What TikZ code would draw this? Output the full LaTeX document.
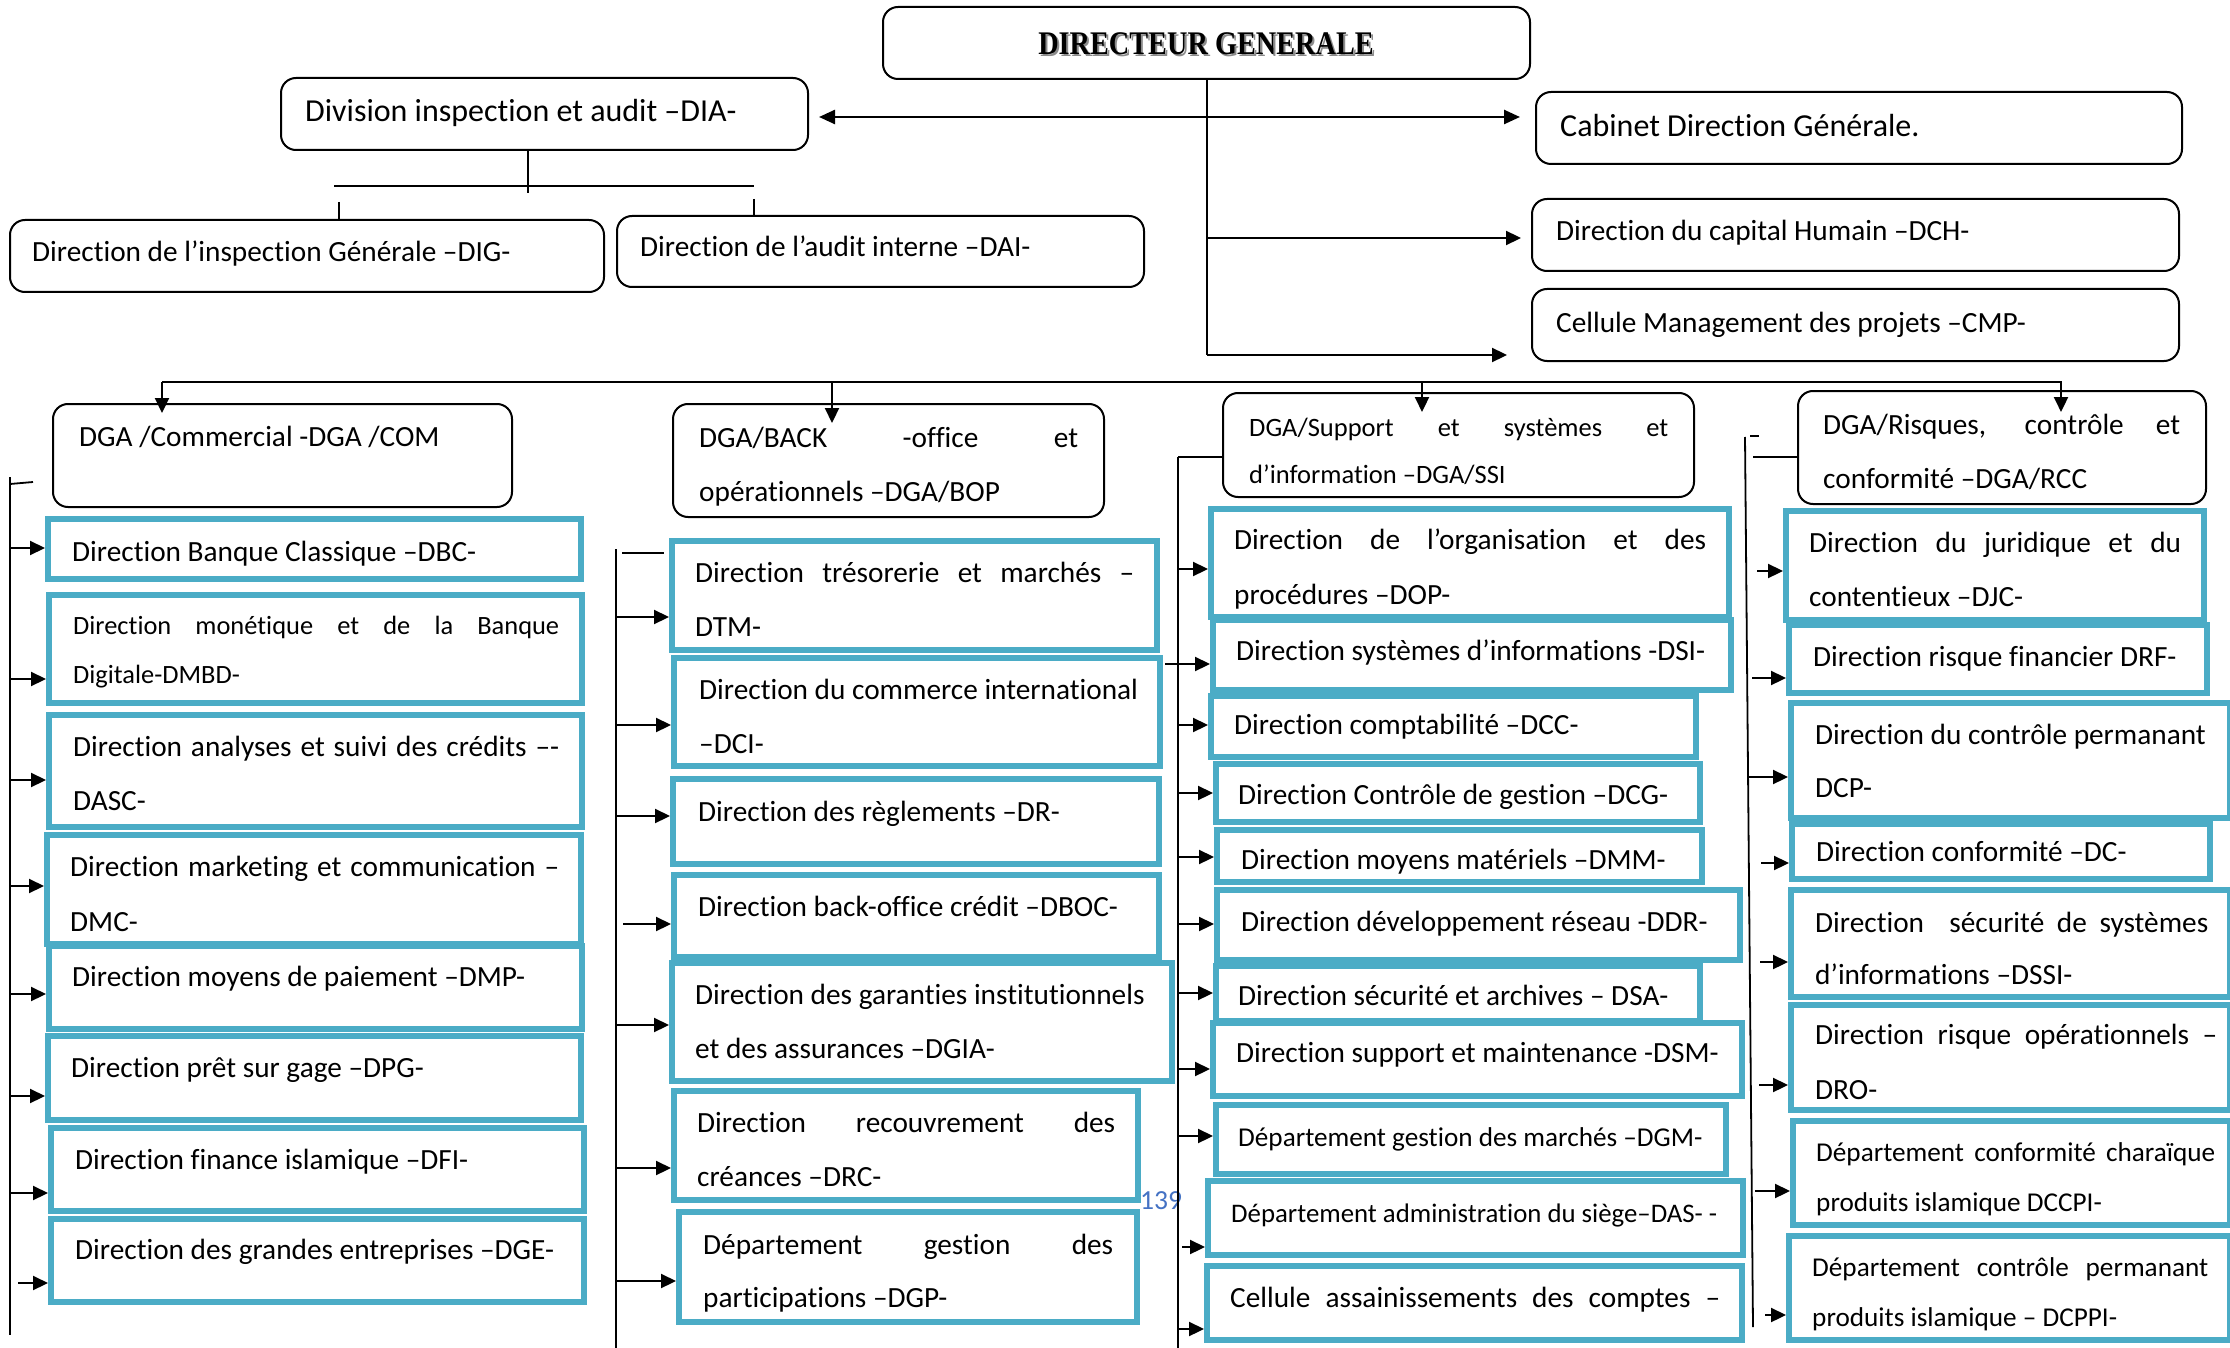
\documentclass[tikz,border=0pt]{standalone}
\usepackage{fontspec}
\setmainfont{Carlito}[Ligatures=CommonOff]
\newfontfamily\titlefont{Liberation Serif}
\usetikzlibrary{arrows.meta}
\definecolor{boxblue}{RGB}{75,172,198}
\definecolor{pnblue}{RGB}{68,114,196}
\newcommand\fsz[1]{\fontsize{#1}{#1}\selectfont}
\tikzset{
 rbox/.style={draw=black, line width=2pt, rounded corners=15pt, inner sep=0pt},
 bbox/.style={draw=boxblue, line width=6pt, inner sep=0pt},
 txt/.style={anchor=base west, inner sep=0pt, font=\fsz{29.3}},
 ln/.style={line width=1.8pt},
 arr/.style={line width=2.2pt, -{Triangle[length=15pt,width=14pt]}},
 arr2/.style={line width=2.5pt, {Triangle[length=16pt,width=14pt]}-{Triangle[length=16pt,width=14pt]}},
 titl/.style={font=\titlefont\bfseries\fsz{33}, inner sep=0pt},
}
\newcommand\RB[5]{\node[rbox, minimum width={#4-#2-2}, minimum height={#5-#3-2}] (#1) at ({(#2+#4)/2},{(#3+#5)/2}) {};}
\newcommand\BB[5]{\node[bbox, minimum width={#4-#2-6}, minimum height={#5-#3-6}] (#1) at ({(#2+#4)/2},{(#3+#5)/2}) {};}
\newcommand\TX[5][]{\node[txt,#1] (#2) at (#3,{#4+9}) {#5};}
\newcommand\TJ[6][]{\node[txt,#1] (#2) at (#3,{#4+9}) {\makebox[#5pt][s]{#6}};}
\begin{document}
\begin{tikzpicture}[x=1pt,y=-1pt]
\fill[white] (0,0) rectangle (2230,1348);
\useasboundingbox (0,0) rectangle (2230,1348);
% ---------- rounded black boxes
\RB{dg}{882}{6}{1531}{80}
\RB{dia}{280}{77}{809}{151}
\RB{cab}{1535}{91}{2183}{165}
\RB{dch}{1531}{198}{2180}{272}
\RB{cmp}{1531}{288}{2180}{362}
\RB{dig}{9}{219}{605}{293}
\RB{dai}{616}{215}{1145}{288}
\RB{com}{52}{403}{513}{508}
\RB{bop}{672}{403}{1105}{518}
\RB{ssi}{1222}{392}{1695}{498}
\RB{rcc}{1797}{390}{2207}{505}
% ---------- blue boxes column 1
\BB{dbc}{45}{516}{584}{582}
\BB{dmbd}{46}{592}{585}{706}
\BB{dasc}{46}{712}{585}{830}
\BB{dmc}{44}{832}{584}{947}
\BB{dmp}{46}{943}{585}{1032}
\BB{dpg}{45}{1033}{584}{1123}
\BB{dfi}{48}{1125}{587}{1214}
\BB{dge}{48}{1216}{587}{1305}
% column 2
\BB{dtm}{669}{538}{1160}{653}
\BB{dci}{671}{655}{1163}{769}
\BB{dr}{670}{776}{1162}{867}
\BB{dboc}{671}{872}{1162}{960}
\BB{dgia}{669}{960}{1175}{1084}
\BB{drc}{671}{1088}{1141}{1203}
\BB{dgp}{676}{1209}{1140}{1325}
% column 3
\BB{dop}{1208}{506}{1732}{620}
\BB{dsi}{1210}{617}{1734}{693}
\BB{dcc}{1208}{693}{1699}{760}
\BB{dcg}{1213}{761}{1703}{825}
\BB{dmm}{1214}{827}{1705}{885}
\BB{ddr}{1214}{887}{1743}{963}
\BB{dsa}{1213}{963}{1703}{1024}
\BB{dsm}{1210}{1020}{1745}{1099}
\BB{dgm}{1213}{1102}{1729}{1177}
\BB{das}{1205}{1178}{1746}{1258}
\BB{cac}{1204}{1263}{1745}{1343}
% column 4
\BB{djc}{1783}{508}{2207}{623}
\BB{drf}{1786}{622}{2210}{696}
\BB{dcp}{1788}{700}{2233}{821}
\BB{dc}{1789}{821}{2213}{882}
\BB{dssi}{1788}{887}{2233}{1000}
\BB{dro}{1788}{1002}{2233}{1113}
\BB{dccpi}{1790}{1118}{2233}{1228}
\BB{dcppi}{1786}{1233}{2233}{1343}
% ---------- texts
\node[titl, text=black!45] (dg-sh) at (1208,46) {\scalebox{0.857}[1]{DIRECTEUR GENERALE}};
\node[titl] (dg-t) at (1206,44) {\scalebox{0.857}[1]{DIRECTEUR GENERALE}};
\TX[font=\fsz{32}]{dia-t}{305}{113}{Division inspection et audit –DIA-}
\TX[font=\fsz{32}]{cab-t}{1560}{128}{Cabinet Direction Générale.}
\TX{dch-t}{1556}{232}{Direction du capital Humain –DCH-}
\TX{cmp-t}{1556}{323}{Cellule Management des projets –CMP-}
\TX{dig-t}{32}{253}{Direction de l’inspection Générale –DIG-}
\TX{dai-t}{640}{248}{Direction de l’audit interne –DAI-}
\TX{com-t}{79}{437}{DGA /Commercial -DGA /COM}
\TJ{bop-t1}{699}{438}{379}{DGA/BACK -office et}
\TX{bop-t2}{699}{492}{opérationnels –DGA/BOP}
\TJ[font=\fsz{26.5}]{ssi-t1}{1249}{427}{419}{DGA/Support et systèmes et}
\TX[font=\fsz{26.5}]{ssi-t2}{1249}{474}{d’information –DGA/SSI}
\TJ{rcc-t1}{1823}{425}{357}{DGA/Risques, contrôle et}
\TX{rcc-t2}{1823}{479}{conformité –DGA/RCC}
% col 1
\TX{dbc-t}{72}{552}{Direction Banque Classique –DBC-}
\TJ[font=\fsz{26.4}]{dmbd-t1}{73}{625}{486}{Direction monétique et de la Banque}
\TX[font=\fsz{26.4}]{dmbd-t2}{73}{674}{Digitale-DMBD-}
\TJ{dasc-t1}{73}{747}{486}{Direction analyses et suivi des crédits –-}
\TX{dasc-t2}{73}{801}{DASC-}
\TJ{dmc-t1}{70}{867}{489}{Direction marketing et communication –}
\TX{dmc-t2}{70}{922}{DMC-}
\TX{dmp-t}{72}{977}{Direction moyens de paiement –DMP-}
\TX{dpg-t}{71}{1068}{Direction prêt sur gage –DPG-}
\TX{dfi-t}{75}{1160}{Direction finance islamique –DFI-}
\TX{dge-t}{75}{1250}{Direction des grandes entreprises –DGE-}
% col 2
\TJ{dtm-t1}{695}{573}{439}{Direction trésorerie et marchés –}
\TX{dtm-t2}{695}{627}{DTM-}
\TX{dci-t1}{699}{690}{Direction du commerce international}
\TX{dci-t2}{699}{744}{–DCI-}
\TX{dr-t}{698}{812}{Direction des règlements –DR-}
\TX{dboc-t}{698}{907}{Direction back-office crédit –DBOC-}
\TX{dgia-t1}{695}{995}{Direction des garanties institutionnels}
\TX{dgia-t2}{695}{1049}{et des assurances –DGIA-}
\TJ{drc-t1}{697}{1123}{418}{Direction recouvrement des}
\TX{drc-t2}{697}{1177}{créances –DRC-}
\TJ{dgp-t1}{703}{1245}{410}{Département gestion des}
\TX{dgp-t2}{703}{1298}{participations –DGP-}
% col 3
\TJ{dop-t1}{1234}{540}{472}{Direction de l’organisation et des}
\TX{dop-t2}{1234}{595}{procédures –DOP-}
\TX{dsi-t}{1236}{651}{Direction systèmes d’informations -DSI-}
\TX{dcc-t}{1234}{725}{Direction comptabilité –DCC-}
\TX{dcg-t}{1238}{795}{Direction Contrôle de gestion –DCG-}
\TX{dmm-t}{1241}{860}{Direction moyens matériels –DMM-}
\TX{ddr-t}{1241}{922}{Direction développement réseau -DDR-}
\TX{dsa-t}{1238}{996}{Direction sécurité et archives – DSA-}
\TX{dsm-t}{1236}{1053}{Direction support et maintenance -DSM-}
\TX[font=\fsz{27.2}]{dgm-t}{1238}{1137}{Département gestion des marchés –DGM-}
\TX[font=\fsz{26.8}]{das-t}{1231}{1213}{Département administration du siège–DAS- -}
\TJ{cac-t}{1230}{1298}{490}{Cellule assainissements des comptes –}
% col 4
\TJ{djc-t1}{1809}{543}{372}{Direction du juridique et du}
\TX{djc-t2}{1809}{597}{contentieux –DJC-}
\TX{drf-t}{1813}{657}{Direction risque financier DRF-}
\TX{dcp-t1}{1815}{735}{Direction du contrôle permanant}
\TX{dcp-t2}{1815}{788}{DCP-}
\TX{dc-t}{1816}{852}{Direction conformité –DC-}
\TJ{dssi-t1}{1815}{923}{393}{Direction\ \ sécurité de systèmes}
\TX{dssi-t2}{1815}{975}{d’informations –DSSI-}
\TJ{dro-t1}{1815}{1035}{402}{Direction risque opérationnels –}
\TX{dro-t2}{1815}{1090}{DRO-}
\TJ[font=\fsz{27.2}]{dccpi-t1}{1816}{1152}{399}{Département conformité charaïque}
\TX[font=\fsz{27.2}]{dccpi-t2}{1816}{1202}{produits islamique DCCPI-}
\TJ[font=\fsz{27.2}]{dcppi-t1}{1812}{1267}{396}{Département contrôle permanant}
\TX[font=\fsz{27.2}]{dcppi-t2}{1812}{1317}{produits islamique – DCPPI-}
\node[font=\fsz{27.6}, text=pnblue, inner sep=0pt] (pg) at (1161,1201) {139};
% ---------- top connectors
\coordinate (dgend) at (1207,355);
\draw[ln] (dg.south -| dgend) -- (dgend);
\draw[arr2] ([xshift=10pt]dia.east |- 0,117) -- ([xshift=-15pt]cab.west |- 0,117);
\draw[arr] (dgend |- 0,238) -- ([xshift=-10pt]dch.west |- 0,238);
\draw[arr] (dgend) -- ([xshift=-24pt]cmp.west |- dgend);
% DIA subtree
\coordinate (diaj) at (528,186);
\coordinate (diaL) at (334,186);
\coordinate (diaR) at (754,186);
\draw[ln] (diaj |- dia.south) -- ([yshift=-7pt]diaj);
\draw[ln] (diaL) -- (diaR);
\draw[ln] ([xshift=5pt,yshift=-16pt]diaL) -- (dig.north -| 339,0);
\draw[ln] ([yshift=-13pt]diaR) -- (dai.north -| diaR);
% main bus
\coordinate (busL) at (162,382);
\coordinate (busR) at (2062,382);
\draw[ln] (busL) -- (busR);
\draw[arr] (busL) -- ([yshift=-10pt]com.north -| busL);
\draw[arr] (busL -| 832,0) -- ([yshift=-20pt]bop.north -| 832,0);
\draw[arr] (busL -| 1422,0) -- ([yshift=-20pt]ssi.north -| 1422,0);
\draw[arr] (busR -| 2061,0) -- ([yshift=-22pt]rcc.north -| 2061,0);
% column buses
\coordinate (b1t) at (10,477);  \coordinate (b1b) at (10,1335);
\coordinate (b2t) at (616,549); \coordinate (b2b) at (616,1348);
\coordinate (b3t) at (1178,457); \coordinate (b3b) at (1178,1348);
\coordinate (b4t) at (1745,437); \coordinate (b4b) at (1753,1327);
\draw[ln] (b1t) -- (b1b);
\draw[ln] (b1t |- 0,484) -- (33,482);
\draw[ln] (b2t) -- (b2b);
\draw[ln] (622,553) -- (664,553);
\draw[ln] (b3t) -- (b3b);
\draw[ln] (b3t) -- (ssi.west |- b3t);
\draw[ln] (b4t) -- (b4b);
\draw[ln] (1750,436) -- (1759,436);
\draw[ln] (1753,457) -- (rcc.west |- 0,457);
% arrows to boxes
\foreach \n/\y/\s in {dbc/548/0, dmbd/679/0, dasc/780/0, dmc/886/0, dmp/994/0, dpg/1096/0, dfi/1193/0, dge/1283/8}
  \draw[arr] ([xshift=\s pt]b1t |- 0,\y) -- (\n.west |- 0,\y);
\foreach \n/\y/\s in {dtm/617/0, dci/725/0, dr/816/0, dboc/924/7, dgia/1025/0, drc/1168/0, dgp/1281/0}
  \draw[arr] ([xshift=\s pt]b2t |- 0,\y) -- (\n.west |- 0,\y);
\foreach \n/\y/\s in {dop/569/0, dsi/664/-13, dcc/725/0, dcg/793/0, dmm/857/0, ddr/924/0, dsa/993/0, dsm/1069/0, dgm/1136/0, das/1247/4, cac/1329/0}
  \draw[arr] ([xshift=\s pt]b3t |- 0,\y) -- (\n.west |- 0,\y);
\foreach \n/\y/\s in {djc/571/12, drf/678/7, dcp/777/3, dc/863/16, dssi/962/15, dro/1085/14, dccpi/1191/10, dcppi/1315/20}
  \draw[arr] ([xshift=\s pt]b4t |- 0,\y) -- (\n.west |- 0,\y);
\end{tikzpicture}
\end{document}
